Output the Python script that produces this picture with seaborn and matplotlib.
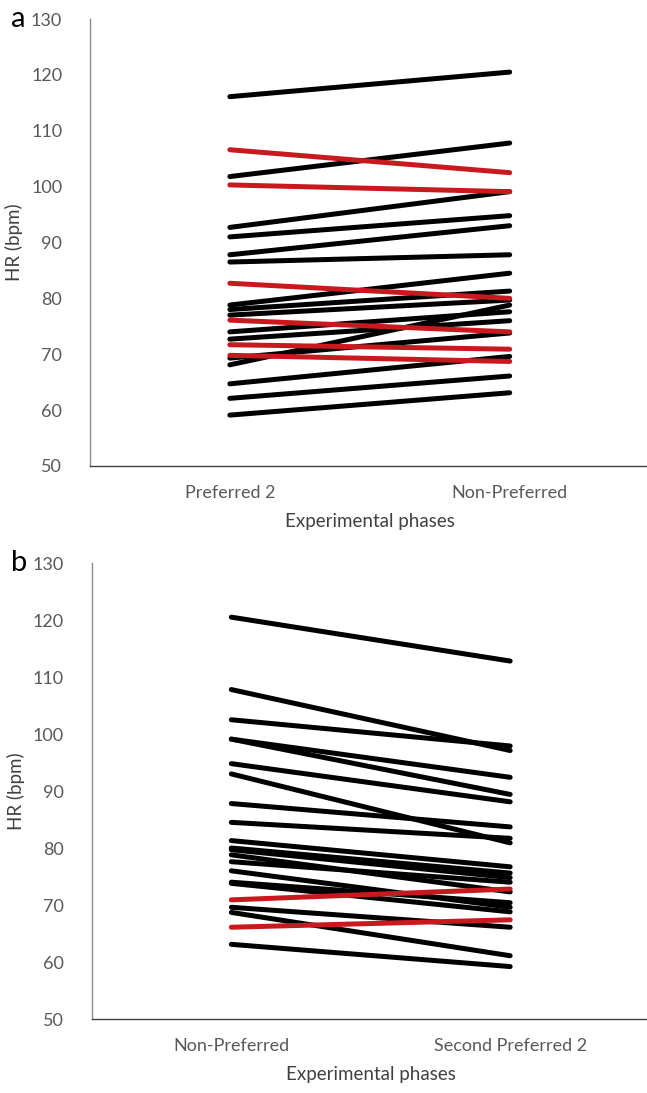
import matplotlib
matplotlib.use("Agg")
import matplotlib.pyplot as plt
import seaborn as sns
import pandas as pd

# panel a: Preferred 2 -> Non-Preferred
a_phases = ["Preferred 2", "Non-Preferred"]
a_pref2 = [116.1, 106.6, 101.8, 100.3, 92.7, 91.0, 87.8, 86.5, 82.7, 78.8, 78.0,
           77.0, 76.1, 74.0, 72.7, 71.7, 69.8, 69.3, 68.1, 64.7, 62.1, 59.1]
a_nonpref = [120.5, 102.5, 107.8, 99.1, 99.1, 94.8, 93.0, 87.8, 80.0, 84.5, 81.3,
             79.7, 74.0, 77.6, 76.0, 70.9, 68.7, 73.8, 78.8, 69.6, 66.1, 63.1]

# panel b: Non-Preferred -> Second Preferred 2
b_phases = ["Non-Preferred", "Second Preferred 2"]
b_nonpref = [120.5, 107.8, 102.5, 99.1, 99.1, 94.8, 93.0, 87.8, 84.5, 81.3, 80.0,
             79.7, 78.8, 77.6, 76.0, 74.0, 73.8, 70.9, 69.6, 68.7, 66.1, 63.1]
b_second = [112.8, 97.1, 97.9, 92.4, 89.4, 88.1, 80.9, 83.7, 81.7, 76.7, 75.6,
            74.8, 72.3, 74.0, 69.6, 70.4, 68.8, 72.8, 66.1, 61.1, 67.4, 59.2]

RED = "#C8191E"
palette = {"black": "black", "red": RED}


def to_long(first, second, phases, red_when_up):
    rows = []
    for i, (v1, v2) in enumerate(zip(first, second)):
        grp = "red" if (v2 > v1) == red_when_up else "black"
        rows.append([i, phases[0], v1, grp])
        rows.append([i, phases[1], v2, grp])
    return pd.DataFrame(rows, columns=["subject", "phase", "hr", "grp"])


# red marks decreases in panel a, increases in panel b
df_a = to_long(a_pref2, a_nonpref, a_phases, red_when_up=False)
df_b = to_long(b_nonpref, b_second, b_phases, red_when_up=True)

sns.set_style("white")
plt.rcParams["font.family"] = ["Lato", "DejaVu Sans"]

fig = plt.figure(figsize=(6.47, 10.93), dpi=100)
ax_a = fig.add_axes([0.139, 0.5737, 0.865, 0.4089])
ax_b = fig.add_axes([0.142, 0.0677, 0.862, 0.4172])

for ax, df, letter in [(ax_a, df_a, "a"), (ax_b, df_b, "b")]:
    # black lines first, red on top
    for grp in ["black", "red"]:
        sub = df[df["grp"] == grp]
        if sub.empty:
            continue
        sns.lineplot(data=sub, x="phase", y="hr", units="subject", estimator=None,
                     color=palette[grp], linewidth=3.6, solid_capstyle="round",
                     sort=False, ax=ax, legend=False)
    ax.set_xlim(-0.5, 1.5)
    ax.set_ylim(50, 130)
    ax.set_yticks(range(50, 131, 10))
    ax.set_ylabel("HR (bpm)", fontsize=13.5, color="#404040", labelpad=6)
    ax.set_xlabel("Experimental phases", fontsize=13.5, color="#404040", labelpad=8)
    ax.tick_params(axis="both", length=0, labelsize=13, colors="#595959", pad=14)
    ax.tick_params(axis="y", pad=20)
    for s in ["top", "right"]:
        ax.spines[s].set_visible(False)
    ax.spines["left"].set_color("#8c8c8c")
    ax.spines["bottom"].set_color("#404040")
    ax.spines["left"].set_linewidth(1.0)
    ax.spines["bottom"].set_linewidth(1.0)
    ax.text(-0.115, 1.0, letter, transform=ax.transAxes, fontsize=21,
            ha="right", va="center", color="black")

fig.savefig("out.png", dpi=100)
